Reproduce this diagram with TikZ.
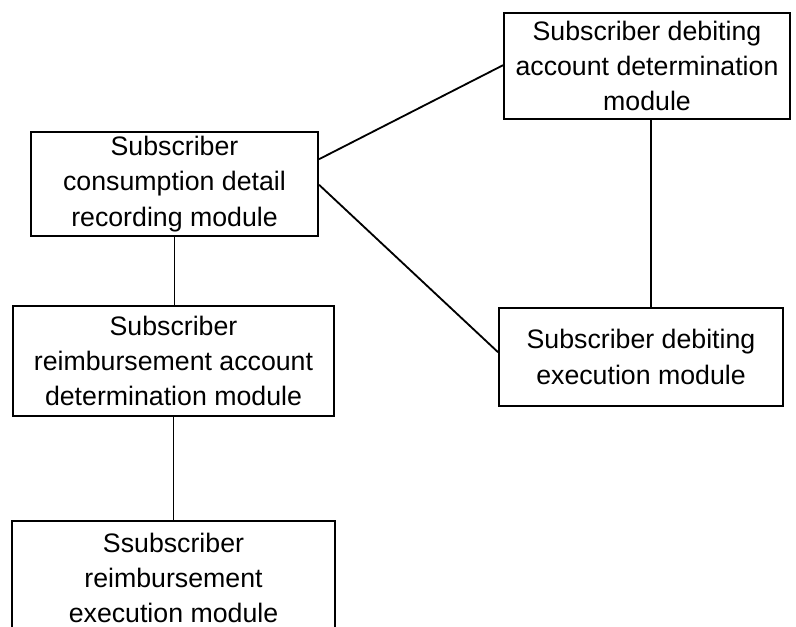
\documentclass[tikz,border=0pt]{standalone}
\usepackage{fontspec}
\setmainfont{Liberation Sans}
\usepackage{tikz}

\begin{document}
\begin{tikzpicture}[x=0.025cm,y=-0.025cm,line width=1.3pt,
    module/.style={draw, align=center, inner sep=0pt,
        font=\fontsize{19}{25.2}\selectfont}]
\useasboundingbox (0,0) rectangle (796,626);
\clip (0,0) rectangle (796,626);

    \node[module, minimum width=7.15cm, minimum height=2.65cm] (debacc) at (647,66)
        {Subscriber debiting\\account determination\\module};
    \node[module, minimum width=7.18cm, minimum height=2.6cm] (consrec) at (174.5,184)
        {Subscriber\\consumption detail\\recording module};
    \node[module, minimum width=8.03cm, minimum height=2.75cm] (reimacc) at (173.5,361)
        {Subscriber\\reimbursement account\\determination module};
    \node[module, minimum width=7.1cm, minimum height=2.45cm] (debexec) at (641,357)
        {Subscriber debiting\\execution module};
    \node[module, minimum width=8.08cm, minimum height=2.85cm] (reimexec) at (173.5,578)
        {Ssubscriber\\reimbursement\\execution module};

    % draw the lines
    \draw ([yshift=0.62cm]consrec.east) -- ([yshift=0.02cm]debacc.west);
    \draw ([yshift=-0.02cm]consrec.east) -- ([yshift=0.12cm]debexec.west);
    \draw (consrec.south) -- (consrec.south |- reimacc.north);
    \draw (reimacc.south) -- (reimacc.south |- reimexec.north);
    \draw ([xshift=0.1cm]debacc.south) -- ([xshift=0.1cm]debacc.south |- debexec.north);

\end{tikzpicture}
\end{document}
